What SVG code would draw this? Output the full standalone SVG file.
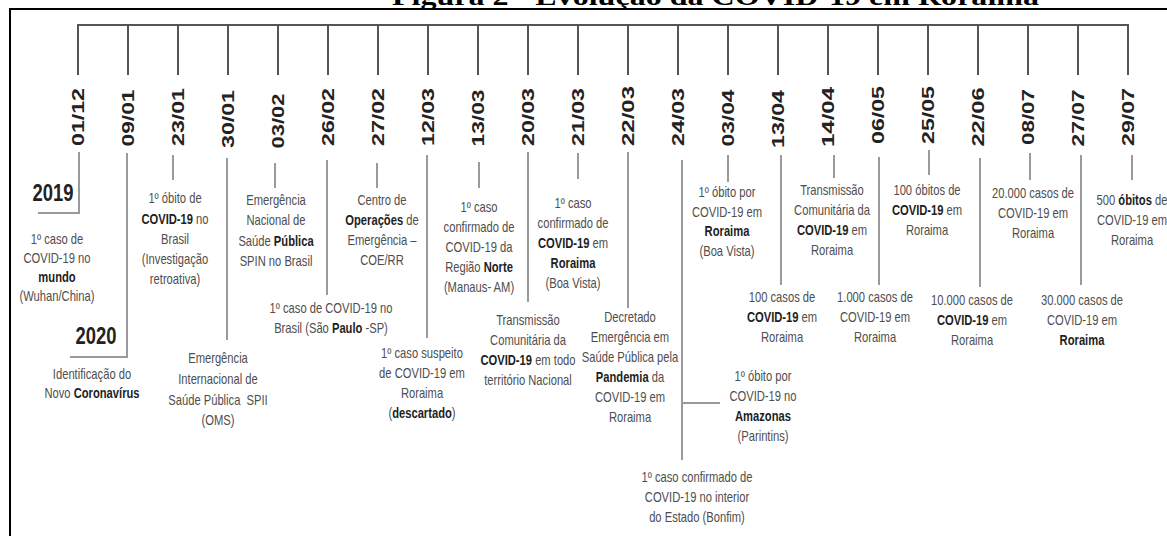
<svg xmlns="http://www.w3.org/2000/svg" width="1167" height="536" viewBox="0 0 1167 536">
<style>
.t{font-family:"Liberation Sans",Arial,sans-serif;font-size:14px;fill:#4e4e4e;text-anchor:middle}
.b{font-weight:bold;fill:#1e1e1e}
.d{font-family:"Liberation Sans",Arial,sans-serif;font-size:16px;font-weight:bold;fill:#222;text-anchor:middle}
.yr{font-family:"Liberation Sans",Arial,sans-serif;font-size:23px;font-weight:bold;fill:#222;text-anchor:middle}
.tick{stroke:#555;stroke-width:2;fill:none}
.seg{stroke:#9a9a9a;stroke-width:2;fill:none}
.title{font-family:"Liberation Serif","Times New Roman",serif;font-size:26px;font-weight:bold;fill:#000}
</style>
<rect width="1167" height="536" fill="#fff"/>
<text class="title" x="392" y="5" textLength="647" lengthAdjust="spacingAndGlyphs">Figura 2 - Evolução da COVID-19 em Roraima</text>
<path d="M10 536 V9 H1167" stroke="#000" stroke-width="2" fill="none"/>

<g id="connectors">
<path class="tick" d="M78 75 V25 H1128 V75 M128 25 V75 M178 25 V75 M228 25 V75 M278 25 V75 M328 25 V75 M378 25 V75 M428 25 V75 M478 25 V75 M528 25 V75 M578 25 V75 M628 25 V75 M678 25 V75 M728 25 V75 M778 25 V75 M828 25 V75 M878 25 V75 M928 25 V75 M978 25 V75 M1028 25 V75 M1078 25 V75"/>
<path class="seg" d="M79 152 V213 H38 M127 153 V357 H70 M173 155 V180 M227 158 V340 M275 163 V188 M327 160 V295 M377 163 V188 M427 155 V338 M479 162 V188 M528 152 V302 M578 153 V179 M628 152 V308 M682 160 V460 M683 403 H720 M728 155 V182 M781 155 V285 M834 155 V178 M879 157 V285 M929 150 V175 M980 158 V287 M1030 153 V180 M1081 155 V285 M1132 155 V180"/>
</g>

<g id="n0112">
<text class="d" transform="translate(78 117) rotate(-90)" dy="0.36em" textLength="58" lengthAdjust="spacingAndGlyphs">01/12</text>
<text class="yr" transform="translate(53 201) scale(0.8 1)">2019</text>
<g transform="translate(57 0) scale(0.8 1)"><text class="t"><tspan x="0" y="244">1º caso de</tspan><tspan x="0" y="263">COVID-19 no</tspan><tspan x="0" y="282" class="b">mundo</tspan><tspan x="0" y="301">(Wuhan/China)</tspan></text></g>
</g>

<g id="n0901">
<text class="d" transform="translate(128 118) rotate(-90)" dy="0.36em" textLength="57" lengthAdjust="spacingAndGlyphs">09/01</text>
<text class="yr" transform="translate(96 344) scale(0.8 1)">2020</text>
<g transform="translate(92 0) scale(0.8 1)"><text class="t"><tspan x="0" y="379">Identificação do</tspan><tspan x="0" y="398">Novo <tspan class="b">Coronavírus</tspan></tspan></text></g>
</g>

<g id="n2301">
<text class="d" transform="translate(178 117) rotate(-90)" dy="0.36em" textLength="58" lengthAdjust="spacingAndGlyphs">23/01</text>
<g transform="translate(175 0) scale(0.8 1)"><text class="t"><tspan x="0" y="203">1º óbito de</tspan><tspan x="0" y="224"><tspan class="b">COVID-19</tspan> no</tspan><tspan x="0" y="244">Brasil</tspan><tspan x="0" y="264">(Investigação</tspan><tspan x="0" y="284">retroativa)</tspan></text></g>
</g>

<g id="n3001">
<text class="d" transform="translate(228 119) rotate(-90)" dy="0.36em" textLength="58" lengthAdjust="spacingAndGlyphs">30/01</text>
<g transform="translate(218 0) scale(0.8 1)"><text class="t" xml:space="preserve"><tspan x="0" y="363">Emergência</tspan><tspan x="0" y="384">Internacional de</tspan><tspan x="0" y="405">Saúde Pública  SPII</tspan><tspan x="0" y="425">(OMS)</tspan></text></g>
</g>

<g id="n0302">
<text class="d" transform="translate(278 121) rotate(-90)" dy="0.36em" textLength="55" lengthAdjust="spacingAndGlyphs">03/02</text>
<g transform="translate(276 0) scale(0.8 1)"><text class="t"><tspan x="0" y="205">Emergência</tspan><tspan x="0" y="225">Nacional de</tspan><tspan x="0" y="246">Saúde <tspan class="b">Pública</tspan></tspan><tspan x="0" y="266">SPIN no Brasil</tspan></text></g>
</g>

<g id="n2602">
<text class="d" transform="translate(328 117) rotate(-90)" dy="0.36em" textLength="58" lengthAdjust="spacingAndGlyphs">26/02</text>
<g transform="translate(331 0) scale(0.8 1)"><text class="t"><tspan x="0" y="313">1º caso de COVID-19 no</tspan><tspan x="0" y="333">Brasil (São <tspan class="b">Paulo</tspan> -SP)</tspan></text></g>
</g>

<g id="n2702">
<text class="d" transform="translate(378 117) rotate(-90)" dy="0.36em" textLength="58" lengthAdjust="spacingAndGlyphs">27/02</text>
<g transform="translate(382 0) scale(0.8 1)"><text class="t"><tspan x="0" y="205">Centro de</tspan><tspan x="0" y="225"><tspan class="b">Operações</tspan> de</tspan><tspan x="0" y="245">Emergência –</tspan><tspan x="0" y="265">COE/RR</tspan></text></g>
</g>

<g id="n1203">
<text class="d" transform="translate(428 117) rotate(-90)" dy="0.36em" textLength="58" lengthAdjust="spacingAndGlyphs">12/03</text>
<g transform="translate(422 0) scale(0.8 1)"><text class="t"><tspan x="0" y="358">1º caso suspeito</tspan><tspan x="0" y="378">de COVID-19 em</tspan><tspan x="0" y="398">Roraima</tspan><tspan x="0" y="418">(<tspan class="b">descartado</tspan>)</tspan></text></g>
</g>

<g id="n1303">
<text class="d" transform="translate(478 118) rotate(-90)" dy="0.36em" textLength="57" lengthAdjust="spacingAndGlyphs">13/03</text>
<g transform="translate(479 0) scale(0.8 1)"><text class="t"><tspan x="0" y="212">1º caso</tspan><tspan x="0" y="232">confirmado de</tspan><tspan x="0" y="252">COVID-19 da</tspan><tspan x="0" y="272">Região <tspan class="b">Norte</tspan></tspan><tspan x="0" y="292">(Manaus- AM)</tspan></text></g>
</g>

<g id="n2003">
<text class="d" transform="translate(528 117) rotate(-90)" dy="0.36em" textLength="58" lengthAdjust="spacingAndGlyphs">20/03</text>
<g transform="translate(528 0) scale(0.8 1)"><text class="t"><tspan x="0" y="325">Transmissão</tspan><tspan x="0" y="345">Comunitária da</tspan><tspan x="0" y="365"><tspan class="b">COVID-19</tspan> em todo</tspan><tspan x="0" y="385">território Nacional</tspan></text></g>
</g>

<g id="n2103">
<text class="d" transform="translate(578 117) rotate(-90)" dy="0.36em" textLength="58" lengthAdjust="spacingAndGlyphs">21/03</text>
<g transform="translate(573 0) scale(0.8 1)"><text class="t"><tspan x="0" y="208">1º caso</tspan><tspan x="0" y="228">confirmado de</tspan><tspan x="0" y="248"><tspan class="b">COVID-19</tspan> em</tspan><tspan x="0" y="268" class="b">Roraima</tspan><tspan x="0" y="288">(Boa Vista)</tspan></text></g>
</g>

<g id="n2203">
<text class="d" transform="translate(628 116) rotate(-90)" dy="0.36em" textLength="60" lengthAdjust="spacingAndGlyphs">22/03</text>
<g transform="translate(630 0) scale(0.8 1)"><text class="t"><tspan x="0" y="322">Decretado</tspan><tspan x="0" y="342">Emergência em</tspan><tspan x="0" y="362">Saúde Pública pela</tspan><tspan x="0" y="382"><tspan class="b">Pandemia</tspan> da</tspan><tspan x="0" y="402">COVID-19 em</tspan><tspan x="0" y="422">Roraima</tspan></text></g>
</g>

<g id="n2403">
<text class="d" transform="translate(678 117) rotate(-90)" dy="0.36em" textLength="58" lengthAdjust="spacingAndGlyphs">24/03</text>
<g transform="translate(763 0) scale(0.8 1)"><text class="t"><tspan x="0" y="381">1º óbito por</tspan><tspan x="0" y="401">COVID-19 no</tspan><tspan x="0" y="421" class="b">Amazonas</tspan><tspan x="0" y="441">(Parintins)</tspan></text></g>
<g transform="translate(697 0) scale(0.8 1)"><text class="t"><tspan x="0" y="482">1º caso confirmado de</tspan><tspan x="0" y="502">COVID-19 no interior</tspan><tspan x="0" y="522">do Estado (Bonfim)</tspan></text></g>
</g>

<g id="n0304">
<text class="d" transform="translate(728 118) rotate(-90)" dy="0.36em" textLength="57" lengthAdjust="spacingAndGlyphs">03/04</text>
<g transform="translate(727 0) scale(0.8 1)"><text class="t"><tspan x="0" y="197">1º óbito por</tspan><tspan x="0" y="217">COVID-19 em</tspan><tspan x="0" y="236" class="b">Roraima</tspan><tspan x="0" y="256">(Boa Vista)</tspan></text></g>
</g>

<g id="n1304">
<text class="d" transform="translate(778 119) rotate(-90)" dy="0.36em" textLength="58" lengthAdjust="spacingAndGlyphs">13/04</text>
<g transform="translate(782 0) scale(0.8 1)"><text class="t"><tspan x="0" y="302">100 casos de</tspan><tspan x="0" y="322"><tspan class="b">COVID-19</tspan> em</tspan><tspan x="0" y="342">Roraima</tspan></text></g>
</g>

<g id="n1404">
<text class="d" transform="translate(828 117) rotate(-90)" dy="0.36em" textLength="60" lengthAdjust="spacingAndGlyphs">14/04</text>
<g transform="translate(832 0) scale(0.8 1)"><text class="t"><tspan x="0" y="195">Transmissão</tspan><tspan x="0" y="215">Comunitária da</tspan><tspan x="0" y="235"><tspan class="b">COVID-19</tspan> em</tspan><tspan x="0" y="255">Roraima</tspan></text></g>
</g>

<g id="n0605">
<text class="d" transform="translate(878 115) rotate(-90)" dy="0.36em" textLength="58" lengthAdjust="spacingAndGlyphs">06/05</text>
<g transform="translate(875 0) scale(0.8 1)"><text class="t"><tspan x="0" y="302">1.000 casos de</tspan><tspan x="0" y="322">COVID-19 em</tspan><tspan x="0" y="342">Roraima</tspan></text></g>
</g>

<g id="n2505">
<text class="d" transform="translate(928 115) rotate(-90)" dy="0.36em" textLength="58" lengthAdjust="spacingAndGlyphs">25/05</text>
<g transform="translate(927 0) scale(0.8 1)"><text class="t"><tspan x="0" y="195">100 óbitos de</tspan><tspan x="0" y="215"><tspan class="b">COVID-19</tspan> em</tspan><tspan x="0" y="235">Roraima</tspan></text></g>
</g>

<g id="n2206">
<text class="d" transform="translate(978 117) rotate(-90)" dy="0.36em" textLength="59" lengthAdjust="spacingAndGlyphs">22/06</text>
<g transform="translate(972 0) scale(0.8 1)"><text class="t"><tspan x="0" y="305">10.000 casos de</tspan><tspan x="0" y="325"><tspan class="b">COVID-19</tspan> em</tspan><tspan x="0" y="345">Roraima</tspan></text></g>
</g>

<g id="n0807">
<text class="d" transform="translate(1028 117) rotate(-90)" dy="0.36em" textLength="56" lengthAdjust="spacingAndGlyphs">08/07</text>
<g transform="translate(1033 0) scale(0.8 1)"><text class="t"><tspan x="0" y="198">20.000 casos de</tspan><tspan x="0" y="218">COVID-19 em</tspan><tspan x="0" y="238">Roraima</tspan></text></g>
</g>

<g id="n2707">
<text class="d" transform="translate(1078 118) rotate(-90)" dy="0.36em" textLength="57" lengthAdjust="spacingAndGlyphs">27/07</text>
<g transform="translate(1082 0) scale(0.8 1)"><text class="t"><tspan x="0" y="305">30.000 casos de</tspan><tspan x="0" y="325">COVID-19 em</tspan><tspan x="0" y="345" class="b">Roraima</tspan></text></g>
</g>

<g id="n2907">
<text class="d" transform="translate(1128 117) rotate(-90)" dy="0.36em" textLength="58" lengthAdjust="spacingAndGlyphs">29/07</text>
<g transform="translate(1132 0) scale(0.8 1)"><text class="t"><tspan x="0" y="205">500 <tspan class="b">óbitos</tspan> de</tspan><tspan x="0" y="225">COVID-19 em</tspan><tspan x="0" y="245">Roraima</tspan></text></g>
</g>
</svg>
